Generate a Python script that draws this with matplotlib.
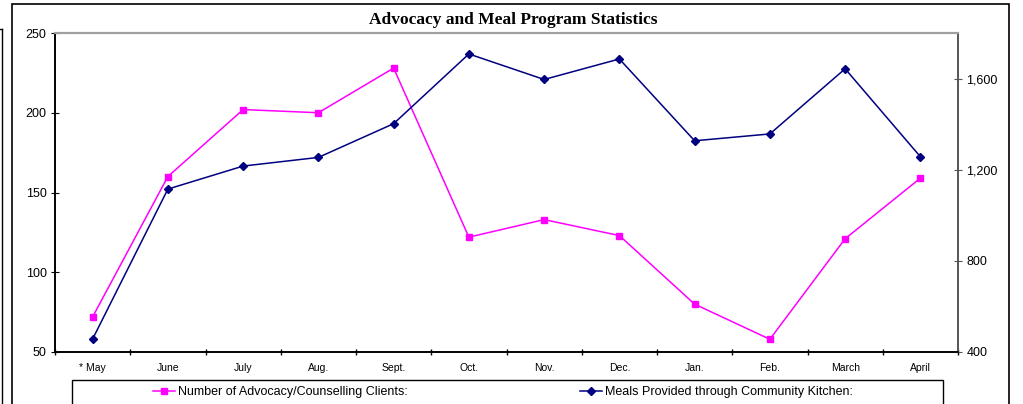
import matplotlib
matplotlib.use("Agg")
import matplotlib.pyplot as plt
import numpy as np
from matplotlib.lines import Line2D
from matplotlib.patches import Rectangle
from matplotlib.ticker import FuncFormatter, MultipleLocator

plt.rcParams['font.family'] = ['Liberation Sans', 'DejaVu Sans']

months = ['* May', 'June', 'July', 'Aug.', 'Sept.', 'Oct.', 'Nov.', 'Dec.',
          'Jan.', 'Feb.', 'March', 'April']
clients = [72, 160, 202, 200, 228, 122, 133, 123, 80, 58, 121, 159]
meals = [457, 1115, 1216, 1254, 1402, 1708, 1596, 1686, 1327, 1357, 1643, 1257]

pink = '#ff00ff'
navy = '#000080'

W, H = 1023, 404
fig = plt.figure(figsize=(W / 100, H / 100), dpi=100)

# outer chart frames
fig.add_artist(Rectangle((12 / W, -0.01), (1009 - 12) / W, 1.0, transform=fig.transFigure,
                         fill=False, edgecolor='black', linewidth=1.2))
fig.add_artist(Line2D([0, 2 / W], [1 - 29 / H] * 2, transform=fig.transFigure, color='black', lw=1))
fig.add_artist(Line2D([2 / W, 2 / W], [0, 1 - 29 / H], transform=fig.transFigure, color='black', lw=1))

ax = fig.add_axes([55 / W, (H - 352) / H, (958 - 55) / W, (352 - 33) / H])
x = np.arange(len(months))

ax.plot(x, clients, color=pink, lw=1.1, marker='s', markersize=5, zorder=3)
ax.set_xlim(-0.5, len(months) - 0.5)
ax.set_ylim(50, 250)
ax.yaxis.set_major_locator(MultipleLocator(50))
ax.set_xticks(x)
ax.set_xticklabels(months, fontsize=7.5)
ax.set_xticks(np.arange(-0.5, len(months), 1), minor=True)
ax.tick_params(axis='x', which='major', length=0, pad=8)
ax.tick_params(axis='x', which='minor', length=4, direction='inout', width=1)
ax.tick_params(axis='y', length=6, direction='inout', labelsize=9, pad=3)

ax2 = ax.twinx()
ax2.plot(x, meals, color=navy, lw=1.1, marker='D', markersize=4, zorder=3)
ax2.set_ylim(400, 1800)
ax2.yaxis.set_major_locator(MultipleLocator(400))
ax2.yaxis.set_major_formatter(FuncFormatter(lambda v, p: f'{int(v):,}' if v < 1800 else ''))
ax2.tick_params(axis='y', length=6, direction='inout', labelsize=9, pad=3, color='#555555')

for a in (ax, ax2):
    a.spines['top'].set_color('#a0a0a0')
    a.spines['top'].set_linewidth(1.5)
    a.spines['right'].set_color('#555555')
    a.spines['right'].set_linewidth(1.2)
    a.spines['left'].set_linewidth(1.2)
    a.spines['bottom'].set_linewidth(1.2)

fig.text(513 / W, 1 - 20 / H, 'Advocacy and Meal Program Statistics', ha='center', va='center',
         fontsize=12.5, fontweight='bold', family='Liberation Serif')

# legend box
fig.add_artist(Rectangle((72 / W, -0.01), (943 - 72) / W, (H - 380) / H + 0.01,
                         transform=fig.transFigure, fill=False, edgecolor='black', linewidth=1))
handles = [Line2D([], [], color=pink, lw=1.1, marker='s', markersize=5),
           Line2D([], [], color=navy, lw=1.1, marker='D', markersize=4)]
labels = ['Number of Advocacy/Counselling Clients:', 'Meals Provided through Community Kitchen:']
fig.legend(handles, labels, ncol=2, frameon=False, loc='center',
           bbox_to_anchor=(503 / W, 1 - 392 / H), fontsize=9, handlelength=1.75,
           handletextpad=0.25, columnspacing=13.8, borderpad=0)

fig.savefig('out.png', dpi=100)
